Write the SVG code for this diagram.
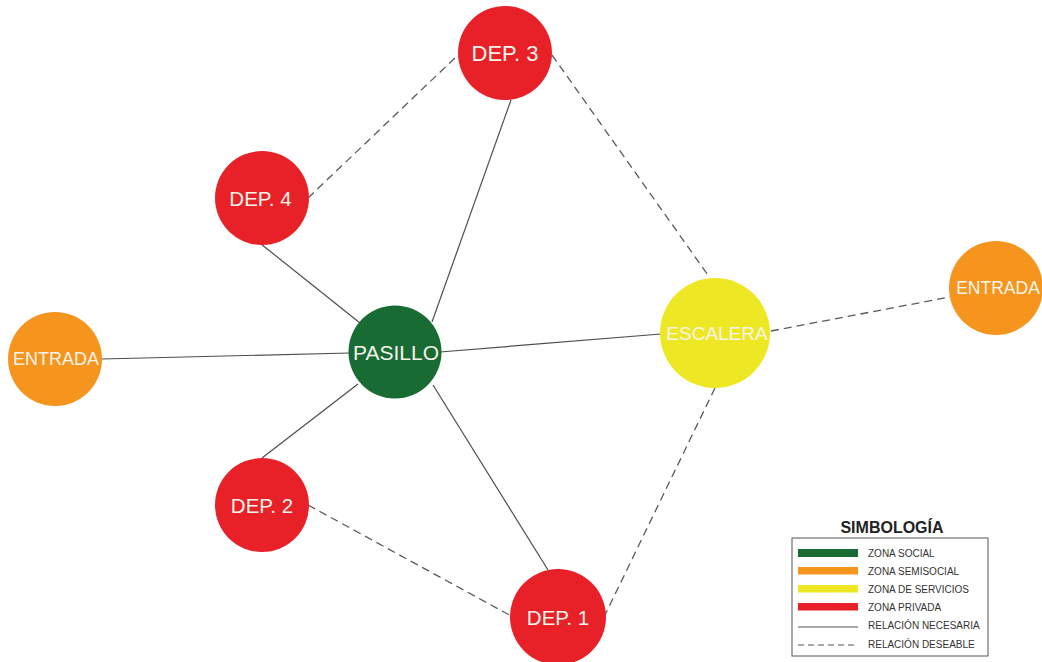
<svg xmlns="http://www.w3.org/2000/svg" width="1042" height="662" viewBox="0 0 1042 662">
  <style>
    .need { stroke: #4d4d4d; stroke-width: 1.2; fill: none; }
    .want { stroke: #5a5a5a; stroke-width: 1.3; fill: none; stroke-dasharray: 8 5; }
    .lbl { font-family: "Liberation Sans", Arial, sans-serif; fill: #f6f4ea; text-anchor: middle; }
    .social { fill: #196b34; }
    .semi { fill: #f6951e; }
    .serv { fill: #eee824; }
    .priv { fill: #e82129; }
    .leg { font-family: "Liberation Sans", Arial, sans-serif; font-size: 10px; fill: #333; }
  </style>
  <rect width="1042" height="662" fill="#ffffff"/>

  <!-- relations -->
  <g id="connectors">
    <line class="need" x1="102" y1="359" x2="350" y2="353"/>
    <line class="need" x1="440" y1="352" x2="661" y2="334"/>
    <line class="need" x1="261" y1="244" x2="360" y2="323"/>
    <line class="need" x1="262" y1="458" x2="358" y2="384"/>
    <line class="need" x1="433" y1="385" x2="548" y2="570"/>
    <line class="need" x1="432" y1="322" x2="511" y2="100"/>
    <line class="want" x1="308" y1="198" x2="458" y2="55"/>
    <line class="want" x1="552" y1="55" x2="710" y2="278"/>
    <line class="want" x1="771" y1="331" x2="955" y2="296"/>
    <line class="want" x1="715" y1="388" x2="605" y2="615"/>
    <line class="want" x1="308" y1="505" x2="513" y2="617"/>
  </g>

  <!-- spaces -->
  <g id="pasillo">
    <circle class="social" cx="395" cy="352" r="46.5"/>
    <text class="lbl" x="396" y="359.5" font-size="21">PASILLO</text>
  </g>
  <g id="escalera">
    <circle class="serv" cx="715" cy="333" r="55"/>
    <text class="lbl" x="717" y="340" font-size="19">ESCALERA</text>
  </g>
  <g id="entrada-izq">
    <circle class="semi" cx="55" cy="359" r="47"/>
    <text class="lbl" x="56" y="365" font-size="18">ENTRADA</text>
  </g>
  <g id="entrada-der">
    <circle class="semi" cx="996" cy="288" r="47"/>
    <text class="lbl" x="998" y="294" font-size="17.5">ENTRADA</text>
  </g>
  <g id="dep3">
    <circle class="priv" cx="505" cy="53" r="47"/>
    <text class="lbl" x="505" y="61" font-size="22">DEP. 3</text>
  </g>
  <g id="dep4">
    <circle class="priv" cx="262" cy="198" r="47"/>
    <text class="lbl" x="260.5" y="205.5" font-size="20.5">DEP. 4</text>
  </g>
  <g id="dep2">
    <circle class="priv" cx="262" cy="505" r="47"/>
    <text class="lbl" x="262" y="512.5" font-size="20.5">DEP. 2</text>
  </g>
  <g id="dep1">
    <circle class="priv" cx="558" cy="617" r="48"/>
    <text class="lbl" x="558" y="624.5" font-size="20.5">DEP. 1</text>
  </g>

  <!-- key -->
  <g id="simbologia">
    <text x="892" y="533" font-family="Liberation Sans, Arial, sans-serif" font-size="16" font-weight="bold" fill="#222" text-anchor="middle">SIMBOLOGÍA</text>
    <rect x="792" y="538" width="196" height="118" fill="#fff" stroke="#555" stroke-width="1"/>
    <rect class="social" x="798" y="549" width="60" height="8"/>
    <rect class="semi" x="798" y="567" width="60" height="7.5"/>
    <rect class="serv" x="798" y="585" width="60" height="7.5"/>
    <rect class="priv" x="798" y="603" width="60" height="7.5"/>
    <line x1="798" y1="627" x2="858" y2="627" stroke="#555" stroke-width="1"/>
    <line x1="798" y1="645" x2="858" y2="645" stroke="#555" stroke-width="1" stroke-dasharray="6 4"/>
    <text class="leg" x="868" y="557">ZONA SOCIAL</text>
    <text class="leg" x="868" y="575">ZONA SEMISOCIAL</text>
    <text class="leg" x="868" y="593">ZONA DE SERVICIOS</text>
    <text class="leg" x="868" y="610.5">ZONA PRIVADA</text>
    <text class="leg" x="868" y="629">RELACIÓN NECESARIA</text>
    <text class="leg" x="868" y="648">RELACIÓN DESEABLE</text>
  </g>
</svg>
